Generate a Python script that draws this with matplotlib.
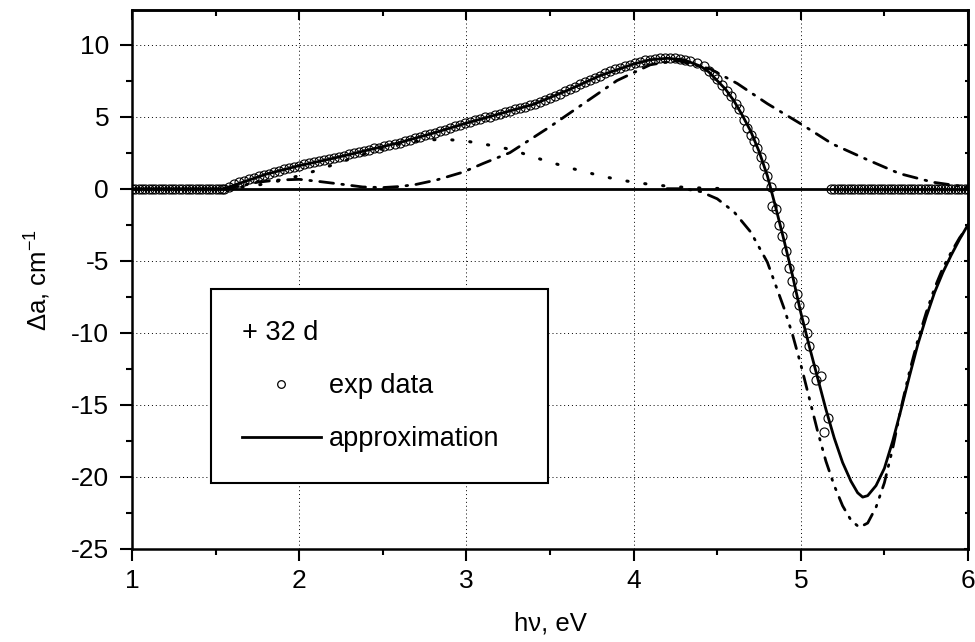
import numpy as np
import matplotlib
matplotlib.use('Agg')
import matplotlib.pyplot as plt
from matplotlib.lines import Line2D

plt.rcParams['font.family'] = ['Liberation Sans', 'DejaVu Sans']
plt.rcParams['mathtext.fontset'] = 'custom'
plt.rcParams['mathtext.rm'] = 'Liberation Sans'
plt.rcParams['mathtext.it'] = 'Liberation Sans:italic'
plt.rcParams['axes.unicode_minus'] = False

# experimental points (photon energy, eV / delta absorption, 1/cm)
exp_x_left = np.linspace(1.0, 1.54, 28)
exp_y_left = [0.0] * 28

exp_x_rise = np.linspace(1.55, 4.34, 94)
exp_y_rise = [0.0, 0.15, 0.3, 0.45, 0.55, 0.65, 0.75, 0.85, 0.95, 1.05,
              1.15, 1.25, 1.35, 1.45, 1.5, 1.6, 1.7, 1.75, 1.85, 1.9,
              2.0, 2.05, 2.15, 2.2, 2.3, 2.4, 2.45, 2.55, 2.65, 2.7,
              2.8, 2.85, 2.95, 3.05, 3.1, 3.2, 3.3, 3.4, 3.5, 3.6,
              3.7, 3.8, 3.9, 4.0, 4.1, 4.2, 4.35, 4.45, 4.55, 4.65,
              4.75, 4.85, 4.95, 5.0, 5.1, 5.2, 5.3, 5.4, 5.5, 5.6,
              5.7, 5.8, 5.9, 6.05, 6.15, 6.3, 6.45, 6.6, 6.75, 6.9,
              7.05, 7.25, 7.4, 7.55, 7.7, 7.85, 8.0, 8.15, 8.3, 8.4,
              8.5, 8.6, 8.7, 8.8, 8.9, 8.95, 9.0, 9.05, 9.1, 9.1,
              9.05, 9.0, 8.95, 8.85]

exp_x_fall = [4.38, 4.42, 4.45, 4.48, 4.50, 4.53, 4.56, 4.58, 4.61, 4.63,
              4.66, 4.68, 4.70, 4.72, 4.74, 4.76, 4.78, 4.80, 4.82, 4.83,
              4.85, 4.87, 4.89, 4.91, 4.93, 4.95, 4.98, 4.99, 5.02, 5.04,
              5.05, 5.08, 5.09, 5.12, 5.14, 5.16]
exp_y_fall = [8.7, 8.5, 8.2, 7.9, 7.6, 7.2, 6.8, 6.4, 5.9, 5.5,
              4.8, 4.2, 3.7, 3.3, 2.8, 2.2, 1.6, 0.9, 0.1, -1.2,
              -1.4, -2.5, -3.3, -4.3, -5.5, -6.4, -7.3, -8.1, -9.1, -10.0,
              -10.9, -12.5, -13.3, -13.0, -16.9, -15.9]

exp_x_right = np.linspace(5.18, 6.0, 42)
exp_y_right = [0.0] * 42

# approximation (sum of components)
fit_x = [1.0, 1.55, 1.6, 1.7, 1.8, 1.9, 2.0, 2.2, 2.4, 2.6, 2.8, 3.0, 3.2, 3.4,
         3.6, 3.8, 4.0, 4.1, 4.2, 4.3, 4.4, 4.45, 4.5, 4.55, 4.6, 4.65, 4.7,
         4.75, 4.8, 4.85, 4.9, 4.95, 5.0, 5.05, 5.1, 5.15, 5.2, 5.25, 5.3,
         5.34, 5.37, 5.4, 5.45, 5.5, 5.55, 5.6, 5.65, 5.7, 5.75, 5.8, 5.85,
         5.9, 5.95, 6.0]
fit_y = [0.0, 0.0, 0.2, 0.6, 1.0, 1.3, 1.6, 2.1, 2.65, 3.2, 3.85, 4.55, 5.2, 5.85,
         6.8, 7.85, 8.65, 8.95, 9.05, 8.95, 8.5, 8.1, 7.5, 6.9, 6.1, 5.1, 4.0,
         2.6, 0.9, -1.3, -3.6, -6.0, -8.6, -10.9, -13.1, -15.3, -17.3, -19.0, -20.3,
         -21.1, -21.4, -21.3, -20.6, -19.4, -17.5, -15.3, -13.0, -10.8, -8.9, -7.2, -5.8,
         -4.6, -3.5, -2.5]

# component 1 (dotted band near 2.9 eV)
c1_x = [1.55, 1.7, 1.8, 1.9, 2.0, 2.1, 2.2, 2.3, 2.4, 2.5, 2.6, 2.7, 2.8, 2.9,
        3.0, 3.1, 3.2, 3.3, 3.4, 3.5, 3.6, 3.7, 3.8, 3.9, 4.0, 4.1, 4.2, 4.3,
        4.4, 4.5, 4.6]
c1_y = [0.0, 0.15, 0.35, 0.6, 0.9, 1.25, 1.65, 2.05, 2.45, 2.8, 3.1, 3.3, 3.4, 3.4,
        3.3, 3.1, 2.9, 2.6, 2.2, 1.85, 1.5, 1.2, 0.9, 0.65, 0.45, 0.3, 0.18, 0.1,
        0.05, 0.02, 0.0]

# component 2 (dash-dot, positive band near 4.25 eV)
c2_x = [1.55, 1.65, 1.75, 1.87, 2.0, 2.12, 2.26, 2.38, 2.5, 2.6, 2.7, 2.82, 2.98,
        3.1, 3.26, 3.38, 3.5, 3.7, 3.9, 4.1, 4.26, 4.46, 4.62, 4.8, 5.0, 5.19,
        5.4, 5.59, 5.79, 6.0]
c2_y = [0.0, 0.2, 0.45, 0.6, 0.65, 0.5, 0.3, 0.12, 0.08, 0.15, 0.3, 0.6, 1.15,
        1.75, 2.5, 3.4, 4.3, 5.9, 7.5, 8.6, 8.9, 8.3, 7.3, 5.9, 4.5, 3.1,
        2.0, 1.05, 0.45, 0.1]

# component 3 (dash-dot-dot, negative band near 5.35 eV)
c3_x = [4.2, 4.3, 4.4, 4.5, 4.6, 4.7, 4.8, 4.9, 4.95, 5.0, 5.05, 5.1, 5.15,
        5.2, 5.25, 5.3, 5.35, 5.4, 5.45, 5.5, 5.55, 5.6, 5.65, 5.7, 5.75,
        5.8, 5.85, 5.9, 5.95, 6.0]
c3_y = [0.0, 0.0, -0.2, -0.7, -1.6, -3.0, -5.1, -8.3, -10.1, -12.2, -14.5,
        -16.8, -18.9, -20.6, -22.0, -23.0, -23.5, -23.2, -22.1, -20.4, -18.0,
        -15.2, -12.7, -10.5, -8.6, -6.9, -5.5, -4.4, -3.4, -2.6]

exp_x = np.concatenate([exp_x_left, exp_x_rise, exp_x_fall, exp_x_right])
exp_y = np.concatenate([exp_y_left, exp_y_rise, exp_y_fall, exp_y_right])

fig = plt.figure(figsize=(9.75, 6.42), dpi=100)
ax = fig.add_axes([132 / 975, 1 - 549 / 642, 836 / 975, 539 / 642])

grid_style = dict(color='black', lw=0.7, ls=(0, (1, 3)))
for gx in [2, 3, 4, 5]:
    ax.axvline(gx, zorder=0, **grid_style)
for gy in [-20, -15, -10, -5, 5, 10]:
    ax.axhline(gy, zorder=0, **grid_style)

ax.axhline(0, color='black', lw=2.0, zorder=2)

ax.plot(c1_x, c1_y, color='black', lw=2.2, ls=(0, (0.4, 5.5)),
        dash_capstyle='round', zorder=2)
ax.plot(c2_x, c2_y, color='black', lw=2.0, ls=(0, (5, 3, 0.6, 3)),
        dash_capstyle='round', zorder=2)
ax.plot(c3_x, c3_y, color='black', lw=2.0, ls=(0, (5, 3, 0.6, 3, 0.6, 3)),
        dash_capstyle='round', zorder=2)
ax.plot(fit_x, fit_y, color='black', lw=2.0, zorder=3)
ax.plot(exp_x, exp_y, ls='none', marker='o', ms=6.5, mfc='none',
        mec='black', mew=0.8, zorder=4)

ax.set_xlim(1, 6)
ax.set_ylim(-25, 12.4)
ax.set_xticks([1, 2, 3, 4, 5, 6])
ax.set_xticks(np.arange(1.5, 6, 1.0), minor=True)
ax.set_yticks([-25, -20, -15, -10, -5, 0, 5, 10])
ax.set_yticks([-22.5, -17.5, -12.5, -7.5, -2.5, 2.5, 7.5], minor=True)
ax.tick_params(which='major', direction='out', length=8.5, width=1.5,
               labelsize=19, pad=6)
ax.tick_params(which='minor', direction='out', length=4.5, width=1.5)
ax.tick_params(axis='y', which='major', pad=8)

for s in ax.spines.values():
    s.set_linewidth(1.8)

top = ax.secondary_xaxis('top')
top.set_xticks([1, 2, 3, 4, 5, 6])
top.set_xticks(np.arange(1.5, 6, 1.0), minor=True)
top.tick_params(which='major', direction='in', length=7.5, width=1.5,
                labeltop=False)
top.tick_params(which='minor', direction='in', length=4.5, width=1.5)
top.spines['top'].set_linewidth(1.8)

right = ax.secondary_yaxis('right')
right.set_yticks([-25, -20, -15, -10, -5, 0, 5, 10])
right.set_yticks([-22.5, -17.5, -12.5, -7.5, -2.5, 2.5, 7.5], minor=True)
right.tick_params(which='major', direction='in', length=3, width=1.5,
                  labelright=False)
right.tick_params(which='minor', direction='in', length=2, width=1.5)
right.spines['right'].set_linewidth(1.8)

ax.set_xlabel('h\u03bd, eV', fontsize=18.5, labelpad=13)
ax.set_ylabel('\u0394a, cm$^{-1}$', fontsize=18.5, labelpad=13)

handles = [Line2D([], [], ls='none', marker='o', ms=5.5, mfc='none',
                  mec='black', mew=0.9),
           Line2D([], [], color='black', lw=2.0)]
leg = ax.legend(handles, ['exp data', 'approximation'], title='+ 32 d',
                title_fontsize=19.5, fontsize=19.5, loc='upper left',
                bbox_to_anchor=(79 / 836, 260 / 539 - 0.01, 337 / 836, 0.01),
                mode='expand', borderaxespad=0, frameon=True, fancybox=False,
                edgecolor='black', framealpha=1, borderpad=1.15,
                labelspacing=1.0, handlelength=2.9, handletextpad=0.3,
                alignment='left')
leg.get_frame().set_linewidth(1.5)

fig.savefig('out.png', dpi=100)
